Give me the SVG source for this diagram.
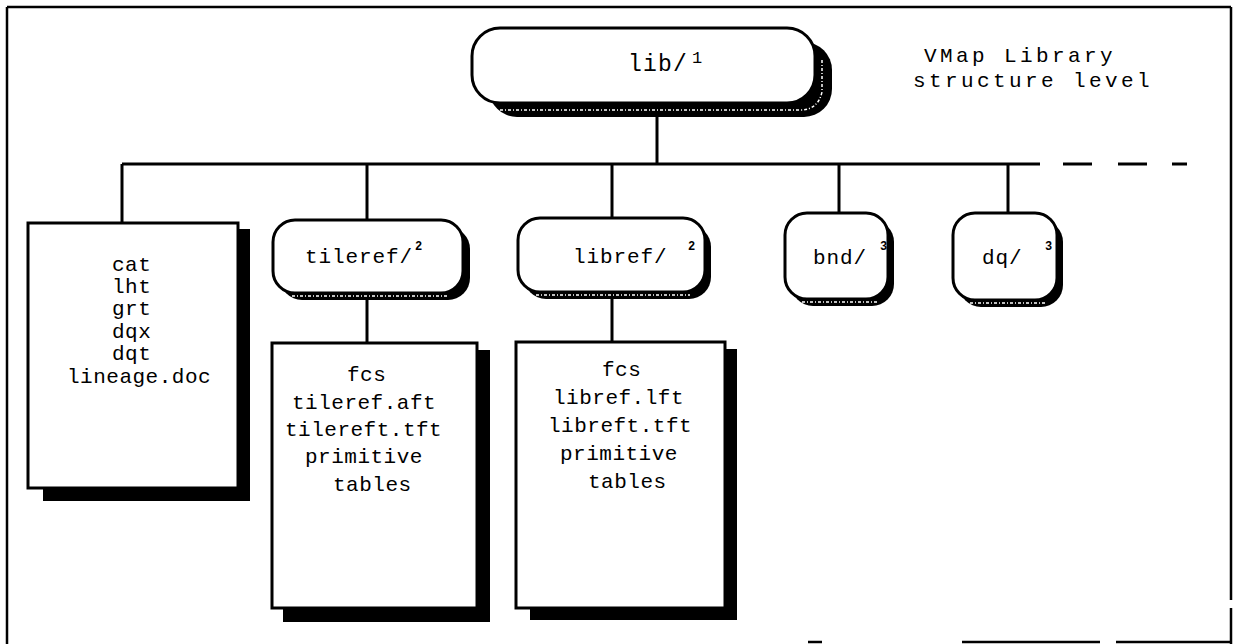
<svg xmlns="http://www.w3.org/2000/svg" width="1234" height="644" viewBox="0 0 1234 644">
  <style>
    .frame { stroke: #000; stroke-width: 2.5; fill: none; }
    .wire { stroke: #000; stroke-width: 3; fill: none; }
    .body { fill: #fff; stroke: #000; stroke-width: 3; }
    .shade { fill: #000; stroke: none; }
    .grain { fill: none; stroke: #fff; stroke-width: 1.5; stroke-dasharray: 3 2 1 2; }
    .mono { font-family: "Liberation Mono", "DejaVu Sans Mono", monospace; fill: #000; }
    .list { font-size: 21px; letter-spacing: 0.5px; }
    .name { font-size: 21px; letter-spacing: 0.9px; }
    .sup { font-size: 12px; font-weight: bold; }
  </style>

  <rect width="1234" height="644" fill="#fff"/>

  <!-- page frame (bottom edge only partly printed) -->
  <g id="frame">
    <line class="frame" x1="7" y1="7" x2="1231" y2="7"/>
    <line class="frame" x1="7" y1="7" x2="7" y2="644"/>
    <line class="frame" x1="1231" y1="7" x2="1231" y2="600"/>
    <line class="frame" x1="1231" y1="608" x2="1231" y2="644"/>
    <line class="frame" x1="962" y1="642" x2="1100" y2="642"/>
    <line class="frame" x1="1116" y1="642" x2="1231" y2="642"/>
    <line class="frame" x1="808" y1="642" x2="822" y2="642"/>
  </g>

  <!-- title -->
  <g id="title" class="mono" font-size="21" letter-spacing="3.4">
    <text x="924" y="62">VMap Library</text>
    <text x="913" y="87">structure level</text>
  </g>

  <!-- tree connectors -->
  <g id="connectors">
    <line class="wire" x1="657" y1="117" x2="657" y2="164"/>
    <line class="wire" x1="122" y1="164" x2="1040" y2="164"/>
    <line class="wire" x1="1063" y1="164" x2="1092" y2="164"/>
    <line class="wire" x1="1118" y1="164" x2="1147" y2="164"/>
    <line class="wire" x1="1172" y1="164" x2="1187" y2="164"/>
    <line class="wire" x1="122" y1="164" x2="122" y2="223"/>
    <line class="wire" x1="367" y1="164" x2="367" y2="220"/>
    <line class="wire" x1="367" y1="300" x2="367" y2="343"/>
    <line class="wire" x1="612" y1="164" x2="612" y2="218"/>
    <line class="wire" x1="612" y1="299" x2="612" y2="342"/>
    <line class="wire" x1="839" y1="164" x2="839" y2="213"/>
    <line class="wire" x1="1008" y1="164" x2="1008" y2="213"/>
  </g>

  <!-- library directory -->
  <g id="lib">
    <rect class="shade" x="489" y="42" width="343" height="75" rx="28"/>
    <path class="grain" d="M500 110 H800 Q818 110 822 92 V60"/>
    <rect class="body" x="472" y="28" width="343" height="75" rx="28"/>
    <text class="mono" x="628" y="71" font-size="23" letter-spacing="1.2">lib/</text>
    <text class="mono" x="692" y="63" font-size="17">1</text>
  </g>

  <!-- library-level tables -->
  <g id="tables">
    <rect class="shade" x="43" y="229" width="207" height="272"/>
    <rect class="body" x="28" y="223" width="210" height="265"/>
    <g class="mono list">
      <text x="112" y="271">cat</text>
      <text x="112" y="293">lht</text>
      <text x="112" y="315">grt</text>
      <text x="112" y="338">dqx</text>
      <text x="112" y="360">dqt</text>
      <text x="67" y="383">lineage.doc</text>
    </g>
  </g>

  <!-- tile reference coverage -->
  <g id="tileref">
    <rect class="shade" x="280" y="227" width="190" height="73" rx="22"/>
    <path class="grain" d="M292 296 H448"/>
    <rect class="body" x="273" y="220" width="190" height="73" rx="22"/>
    <text class="mono name" x="305" y="263">tileref/</text>
    <text class="mono sup" x="415" y="250">2</text>
  </g>
  <g id="tileref-tables">
    <rect class="shade" x="283" y="350" width="207" height="272"/>
    <rect class="body" x="272" y="343" width="205" height="265"/>
    <g class="mono list">
      <text x="347" y="381">fcs</text>
      <text x="292" y="409">tileref.aft</text>
      <text x="285" y="436">tilereft.tft</text>
      <text x="305" y="463">primitive</text>
      <text x="333" y="491">tables</text>
    </g>
  </g>

  <!-- library reference coverage -->
  <g id="libref">
    <rect class="shade" x="524" y="225" width="187" height="74" rx="22"/>
    <path class="grain" d="M536 295 H690"/>
    <rect class="body" x="518" y="218" width="187" height="74" rx="22"/>
    <text class="mono name" x="573" y="263">libref/</text>
    <text class="mono sup" x="688" y="250">2</text>
  </g>
  <g id="libref-tables">
    <rect class="shade" x="530" y="349" width="207" height="271"/>
    <rect class="body" x="516" y="342" width="209" height="266"/>
    <g class="mono list">
      <text x="602" y="376">fcs</text>
      <text x="553" y="404">libref.lft</text>
      <text x="548" y="432">libreft.tft</text>
      <text x="560" y="460">primitive</text>
      <text x="588" y="488">tables</text>
    </g>
  </g>

  <!-- boundary coverage -->
  <g id="bnd">
    <rect class="shade" x="791" y="220" width="103" height="86" rx="22"/>
    <path class="grain" d="M802 302 H878"/>
    <rect class="body" x="785" y="213" width="103" height="86" rx="22"/>
    <text class="mono name" x="813" y="264" letter-spacing="1.6">bnd/</text>
    <text class="mono sup" x="880" y="250">3</text>
  </g>

  <!-- data quality coverage -->
  <g id="dq">
    <rect class="shade" x="959" y="220" width="104" height="87" rx="22"/>
    <path class="grain" d="M970 303 H1046"/>
    <rect class="body" x="953" y="213" width="104" height="87" rx="22"/>
    <text class="mono name" x="982" y="264" letter-spacing="1.6">dq/</text>
    <text class="mono sup" x="1045" y="250">3</text>
  </g>
</svg>
